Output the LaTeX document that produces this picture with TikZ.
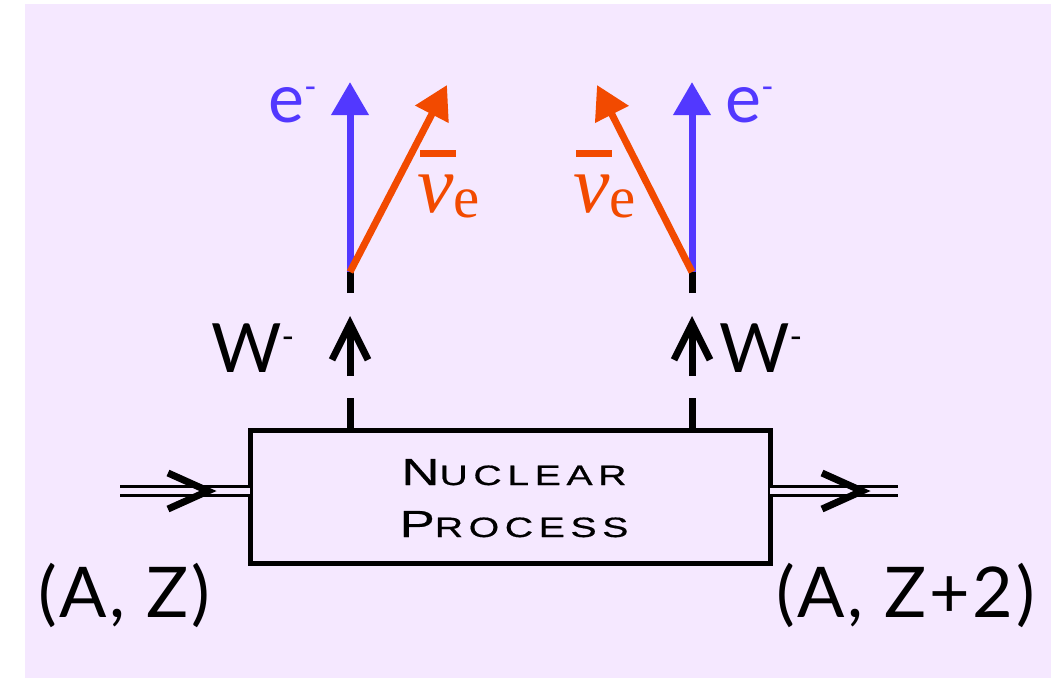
\documentclass[tikz,border=0pt]{standalone}
\usepackage{fontspec}
\usetikzlibrary{arrows.meta,calc}
\newfontfamily\gill{Lato}
\newfontfamily\gillwide[LetterSpace=4]{Lato}
\newfontfamily\nufont{Liberation Serif}
\newfontfamily\boxfont[FakeStretch=1.4,LetterSpace=20,FakeBold=0.6]{Liberation Sans}
\definecolor{lav}{RGB}{245,232,255}
\definecolor{eblue}{RGB}{82,56,255}
\definecolor{nuorange}{RGB}{242,74,0}
\newcommand{\bigsc}[1]{{\fontsize{37.7}{40}\selectfont #1}}
\newcommand{\smsc}[1]{{\fontsize{28}{30}\selectfont #1}}
\newcommand{\supminus}{\raisebox{24pt}{\fontsize{34}{34}\selectfont -}}
\newcommand{\nubar}{{\nufont\itshape\fontsize{82}{82}\selectfont\rlap{\hspace{3pt}\raisebox{55pt}{\rule{36pt}{7pt}}}ν}{\nufont\fontsize{59}{59}\selectfont\raisebox{-5pt}{e}}}
\begin{document}
\begin{tikzpicture}[x=1pt,y=-1pt,
  lepton/.style={line width=7pt},
  eline/.style={lepton, draw=eblue, -{Triangle[length=33pt,width=36pt]}},
  nuline/.style={lepton, draw=nuorange, -{Triangle[length=33pt,width=36pt]}},
  wdash/.style={line width=7pt, dash pattern=on 32pt off 105pt on 30pt},
  warrow/.style={line width=7pt, -{Straight Barb[length=36pt,width=36pt]}},
  dline/.style={double=lav, double distance=5.6pt, line width=3.2pt},
  chev/.style={line width=7pt},
  lbl/.style={inner sep=0pt, anchor=base west, font={\gill\fontsize{68}{80}\selectfont}},
  nuclbl/.style={inner sep=0pt, anchor=base west, font={\gillwide\fontsize{70}{80}\selectfont}},
  elbl/.style={lbl, text=eblue},
  nulbl/.style={inner sep=0pt, anchor=base west, text=nuorange},
  boxtxt/.style={inner sep=0pt, anchor=base, font=\boxfont},
  procbox/.style={draw, line width=5pt, minimum width=520pt, minimum height=133pt, inner sep=0pt, outer sep=0pt}
]
\path[use as bounding box] (0,0) rectangle (1056,678);
\fill[lav] (25,4) rectangle (1051,678);

% box
\node[procbox] (box) at (510,496.5) {};
\node[boxtxt] (nuc1) at (514,485) {\bigsc{N}\smsc{UCLEAR}};
\node[boxtxt] (nuc2) at (514,537) {\bigsc{P}\smsc{ROCESS}};

% vertices and tips
\coordinate (v1) at (350,272);
\coordinate (v2) at (692,272);
\coordinate (e1) at (350,82);
\coordinate (e2) at (692,82);
\coordinate (n1) at (447,85);
\coordinate (n2) at (597,85);
\coordinate (w1a) at (350,376);
\coordinate (w1b) at (350,316);
\coordinate (w2a) at (692,376);
\coordinate (w2b) at (692,316);

% W lines
\draw[wdash] (box.north -| v1) -- (v1);
\draw[wdash] (box.north -| v2) -- (v2);
\draw[warrow] (w1a) -- (w1b);
\draw[warrow] (w2a) -- (w2b);

% leptons
\draw[eline] (v1) -- (e1);
\draw[nuline] (v1) -- (n1);
\draw[eline] (v2) -- (e2);
\draw[nuline] (v2) -- (n2);

% nuclear lines
\coordinate (inL) at (120,491);
\coordinate (outR) at (898,491);
\coordinate (cL) at (208,491);
\coordinate (cR) at (862,491);
\draw[dline] (inL) -- (inL -| box.west);
\draw[dline] (box.east |- outR) -- (outR);
\draw[chev] ($(cL)+(-40,-18)$) -- (cL) -- ($(cL)+(-40,18)$);
\draw[chev] ($(cR)+(-40,-18)$) -- (cR) -- ($(cR)+(-40,18)$);

% labels
\node[elbl] (le1) at (268,122) {e\supminus};
\node[elbl] (le2) at (725,122) {e\supminus};
\node[nulbl] (ln1) at (417,212) {\nubar};
\node[nulbl] (ln2) at (573,212) {\nubar};
\node[lbl] (lw1) at (211,372) {W\supminus};
\node[lbl] (lw2) at (719,372) {W\supminus};
\node[nuclbl] (laz) at (38,617) {(A, Z)};
\node[nuclbl] (laz2) at (776,617) {(A, Z+2)};
\end{tikzpicture}
\end{document}
